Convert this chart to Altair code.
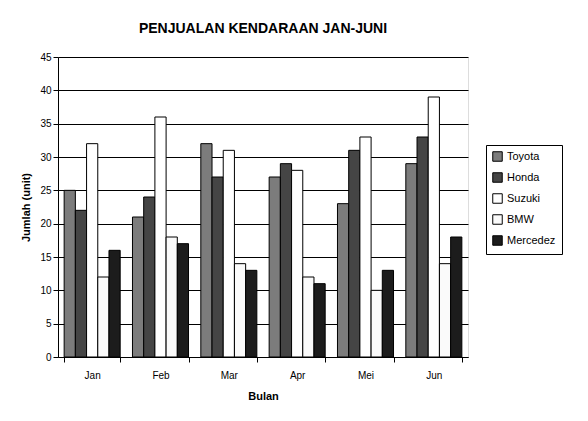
import altair as alt
import pandas as pd

months = ["Jan", "Feb", "Mar", "Apr", "Mei", "Jun"]
brands = ["Toyota", "Honda", "Suzuki", "BMW", "Mercedez"]
toyota = [25, 21, 32, 27, 23, 29]
honda = [22, 24, 27, 29, 31, 33]
suzuki = [32, 36, 31, 28, 33, 39]
bmw = [12, 18, 14, 12, 10, 14]
mercedez = [16, 17, 13, 11, 13, 18]
y_ticks = [0, 5, 10, 15, 20, 25, 30, 35, 40, 45]
colors = ["#7c7c7c", "#454545", "#ffffff", "#fafafa", "#1c1c1c"]

series = [toyota, honda, suzuki, bmw, mercedez]
rows = []
for b, vals in zip(brands, series):
    for m, v in zip(months, vals):
        rows.append({"Bulan": m, "Merek": b, "Jumlah": v})
df = pd.DataFrame(rows)

font = "Liberation Sans"

chart = alt.Chart(df).mark_bar(stroke="black", strokeWidth=1, opacity=1).encode(
    x=alt.X("Bulan:N", sort=months,
            scale=alt.Scale(paddingInner=0.18, paddingOuter=0.09),
            axis=alt.Axis(title="Bulan", labelAngle=0, tickBand="extent",
                          domainColor="black", tickColor="black",
                          labelPadding=8, titlePadding=10)),
    xOffset=alt.XOffset("Merek:N", sort=brands,
                        scale=alt.Scale(domain=brands, paddingInner=0, paddingOuter=0)),
    y=alt.Y("Jumlah:Q", scale=alt.Scale(domain=[0, 45], nice=False),
            axis=alt.Axis(title="Jumlah (unit)", values=y_ticks, grid=True,
                          gridColor="black", gridOpacity=1, gridWidth=1,
                          domainColor="black", tickColor="black", titlePadding=8)),
    color=alt.Color("Merek:N", sort=brands,
                    scale=alt.Scale(domain=brands, range=colors),
                    legend=alt.Legend(title=None, symbolType="square",
                                      symbolStrokeColor="black", symbolStrokeWidth=1,
                                      symbolSize=90, symbolOpacity=1,
                                      strokeColor="black", orient="none",
                                      legendX=428, legendY=88,
                                      padding=6, rowPadding=6, labelFontSize=11)),
).properties(
    width=410, height=300,
    title=alt.TitleParams("PENJUALAN KENDARAAN JAN-JUNI", fontSize=14,
                          fontWeight="bold", font=font, offset=16),
    padding={"left": 12, "top": 14, "right": 8, "bottom": 8},
).configure_view(
    fill="#c0c0c0", stroke="#606060"
).configure_axis(
    labelFont=font, titleFont=font, labelFontSize=11, titleFontSize=12,
    titleFontWeight="bold", labelColor="black", titleColor="black"
).configure_legend(
    labelFont=font, labelColor="black"
).configure(background="white")

chart.save("out.html", embed_options={"renderer": "svg", "actions": False})
